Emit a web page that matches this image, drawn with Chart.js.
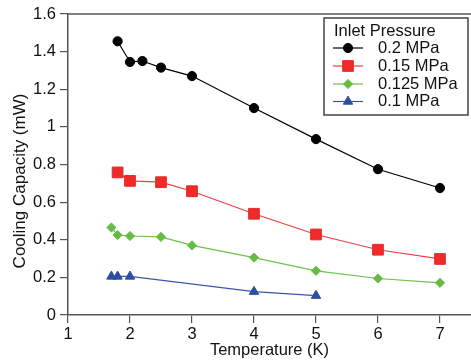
<!DOCTYPE html>
<html>
<head>
<meta charset="utf-8">
<script src="https://cdn.jsdelivr.net/npm/chart.js@4/dist/chart.umd.min.js"></script>
<style>
    html, body { margin: 0; padding: 0; background: #fff; }
    #wrap { width: 471px; height: 360px; }
</style>
</head>
<body>
<div id="wrap"><canvas id="coolingChart" width="471" height="360"></canvas></div>
<script>
// === DATA ===
const seriesLabels = ['0.2 MPa', '0.15 MPa', '0.125 MPa', '0.1 MPa'];
const legendTitle = 'Inlet Pressure';
const xTitle = 'Temperature (K)';
const yTitle = 'Cooling Capacity (mW)';
const xTickValues = [1, 2, 3, 4, 5, 6, 7];

const temps02 = [1.8, 2, 2.2, 2.5, 3, 4, 5, 6, 7];
const cap02 = [1.455, 1.345, 1.35, 1.315, 1.27, 1.10, 0.935, 0.775, 0.675];

const temps015 = [1.8, 2, 2.5, 3, 4, 5, 6, 7];
const cap015 = [0.758, 0.713, 0.706, 0.658, 0.538, 0.428, 0.347, 0.298];

const temps0125 = [1.7, 1.8, 2, 2.5, 3, 4, 5, 6, 7];
const cap0125 = [0.465, 0.425, 0.42, 0.415, 0.37, 0.305, 0.235, 0.194, 0.171];

const temps01 = [1.7, 1.8, 2, 4, 5];
const cap01 = [0.205, 0.205, 0.205, 0.124, 0.103];

// === STYLE ===
const FONT = "'Liberation Sans', Arial, Helvetica, sans-serif";
const AXIS_COLOR = '#555';
const styles = [
    { color: '#000000', line: '#000000', pointStyle: 'circle', radius: 4.6 },
    { color: '#ee2a2a', line: '#e84040', pointStyle: 'rect', radius: 7.6 },
    { color: '#66bb44', line: '#6cc24a', pointStyle: 'rectRot', radius: 4.6 },
    { color: '#2d4fa0', line: '#3a55a8', pointStyle: 'triangle', radius: 5.4 }
];

function toPoints(xs, ys) {
    return xs.map((x, i) => ({ x: x, y: ys[i] }));
}

const allSeries = [
    toPoints(temps02, cap02),
    toPoints(temps015, cap015),
    toPoints(temps0125, cap0125),
    toPoints(temps01, cap01)
];

// === PLUGIN: frame, y title, legend box ===
const decorPlugin = {
    id: 'decor',
    afterDraw(chart) {
        const ctx = chart.ctx;
        const area = chart.chartArea;
        ctx.save();

        // top frame line
        ctx.strokeStyle = AXIS_COLOR;
        ctx.lineWidth = 1.5;
        ctx.beginPath();
        ctx.moveTo(area.left, area.top);
        ctx.lineTo(area.right, area.top);
        ctx.stroke();

        // y axis title
        ctx.save();
        ctx.translate(20, 181);
        ctx.rotate(-Math.PI / 2);
        ctx.fillStyle = '#111';
        ctx.font = '17px ' + FONT;
        ctx.textAlign = 'center';
        ctx.textBaseline = 'middle';
        ctx.fillText(yTitle, 0, 0);
        ctx.restore();

        // legend box
        const box = { x: 324, y: 18, w: 144, h: 97 };
        ctx.fillStyle = '#fff';
        ctx.fillRect(box.x, box.y, box.w, box.h);
        ctx.strokeStyle = '#444';
        ctx.lineWidth = 1.5;
        ctx.strokeRect(box.x, box.y, box.w, box.h);

        ctx.fillStyle = '#111';
        ctx.font = '16.5px ' + FONT;
        ctx.textAlign = 'left';
        ctx.textBaseline = 'middle';
        ctx.fillText(legendTitle, 334, 31);

        const rowY = [48, 66, 84, 101.5];
        seriesLabels.forEach((label, i) => {
            const st = styles[i];
            const y = rowY[i];
            ctx.strokeStyle = st.line;
            ctx.lineWidth = 1.2;
            ctx.beginPath();
            ctx.moveTo(333, y);
            ctx.lineTo(363, y);
            ctx.stroke();
            ctx.fillStyle = st.color;
            ctx.strokeStyle = st.color;
            ctx.lineWidth = 1;
            Chart.helpers.drawPoint(ctx, {
                pointStyle: st.pointStyle,
                radius: st.radius,
                rotation: 0,
                borderWidth: 1
            }, 348, y);
            ctx.fillStyle = '#111';
            ctx.fillText(label, 378, y);
        });

        ctx.restore();
    }
};

// === CHART ===
function initializeChart() {
    const ctx = document.getElementById('coolingChart').getContext('2d');

    const datasets = allSeries.map((pts, i) => ({
        label: seriesLabels[i],
        data: pts,
        showLine: true,
        borderColor: styles[i].line,
        borderWidth: 1.2,
        backgroundColor: styles[i].color,
        pointBackgroundColor: styles[i].color,
        pointBorderColor: styles[i].color,
        pointBorderWidth: 1,
        pointStyle: styles[i].pointStyle,
        pointRadius: styles[i].radius,
        tension: 0
    }));

    new Chart(ctx, {
        type: 'scatter',
        data: { datasets: datasets },
        options: {
            responsive: false,
            animation: false,
            devicePixelRatio: 1,
            layout: {
                autoPadding: false,
                padding: { top: 14, right: 0, left: 0, bottom: 0 }
            },
            plugins: {
                legend: { display: false },
                tooltip: { enabled: false }
            },
            scales: {
                x: {
                    type: 'linear',
                    min: 1,
                    max: 7.5,
                    afterFit: (scale) => {
                        scale.height = 45;
                        scale.paddingLeft = 0;
                        scale.paddingRight = 0;
                    },
                    afterBuildTicks: (scale) => {
                        scale.ticks = xTickValues.map(v => ({ value: v }));
                    },
                    border: { display: true, color: AXIS_COLOR, width: 1.5 },
                    grid: {
                        drawOnChartArea: false,
                        drawTicks: true,
                        tickLength: 8,
                        color: AXIS_COLOR,
                        lineWidth: 1.2
                    },
                    ticks: {
                        color: '#111',
                        padding: 2,
                        font: { family: FONT, size: 16.5 }
                    },
                    title: {
                        display: true,
                        text: xTitle,
                        color: '#111',
                        padding: { top: 0, bottom: 0 },
                        font: { family: FONT, size: 16.5 }
                    }
                },
                y: {
                    min: 0,
                    max: 1.6,
                    afterFit: (scale) => {
                        scale.width = 68;
                        scale.paddingTop = 0;
                        scale.paddingBottom = 0;
                    },
                    border: { display: true, color: AXIS_COLOR, width: 1.5 },
                    grid: {
                        drawOnChartArea: false,
                        drawTicks: true,
                        tickLength: 8,
                        color: AXIS_COLOR,
                        lineWidth: 1.2
                    },
                    ticks: {
                        stepSize: 0.2,
                        color: '#111',
                        padding: 4,
                        font: { family: FONT, size: 16.5 },
                        callback: (value) => String(Number(value.toFixed(1)))
                    }
                }
            }
        },
        plugins: [decorPlugin]
    });
}

document.addEventListener('DOMContentLoaded', initializeChart);
</script>
</body>
</html>
